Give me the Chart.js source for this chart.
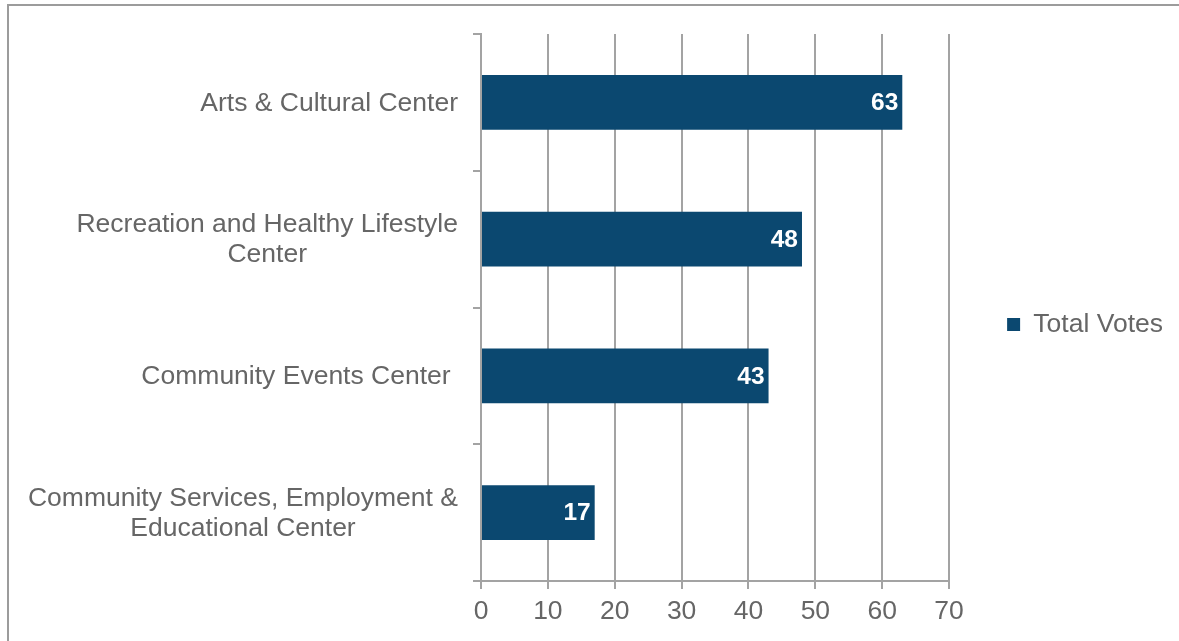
<!DOCTYPE html>
<html>
<head>
<meta charset="utf-8">
<script src="https://cdn.jsdelivr.net/npm/chart.js@4.4.1/dist/chart.umd.min.js"></script>
<style>
  body { margin: 0; background: #fff; }
  #frame {
    position: absolute; left: 7px; top: 4px; width: 1172px; height: 637px;
    border-left: 2px solid #9c9c9c; border-top: 2px solid #9c9c9c;
  }
  #wrap { position: absolute; left: 0; top: 0; width: 1179px; height: 641px; }
</style>
</head>
<body>
<div id="frame"></div>
<div id="wrap"><canvas id="votes" width="1179" height="641"></canvas></div>
<script>
const categories = [
  'Arts & Cultural Center',
  ['Recreation and Healthy Lifestyle', 'Center'],
  'Community Events Center ',
  ['Community Services, Employment &', 'Educational Center']
];
const totalVotes = [63, 48, 43, 17];
const xMin = 0;
const xMax = 70;
const xStep = 10;

const FONT = '"Liberation Sans", Arial, sans-serif';
const TEXT = '#666666';
const GRID = '#a3a3a3';
const BAR = '#0b4870';

// white value at the end of each bar
const barValueLabels = {
  id: 'barValueLabels',
  afterDatasetsDraw(chart) {
    const ctx = chart.ctx;
    const ds = chart.data.datasets[0];
    ctx.save();
    ctx.font = 'bold 24.5px ' + FONT;
    ctx.fillStyle = '#ffffff';
    ctx.textAlign = 'right';
    ctx.textBaseline = 'middle';
    chart.getDatasetMeta(0).data.forEach((bar, i) => {
      ctx.fillText(String(ds.data[i]), bar.x - 4, bar.y + 1);
    });
    ctx.restore();
  }
};

// category names: right-aligned block, lines centred on each other
const categoryLabels = {
  id: 'categoryLabels',
  afterDraw(chart) {
    const ctx = chart.ctx;
    const y = chart.scales.y;
    const right = y.right - 23;
    ctx.save();
    ctx.font = '26.5px ' + FONT;
    ctx.fillStyle = TEXT;
    ctx.textAlign = 'center';
    ctx.textBaseline = 'middle';
    chart.data.labels.forEach((label, i) => {
      const lines = Array.isArray(label) ? label : [label];
      const w = Math.max(...lines.map(l => ctx.measureText(l).width));
      const cx = right - w / 2;
      const cy = y.getPixelForTick(i) + 1;
      lines.forEach((line, j) => {
        ctx.fillText(line, cx, cy + (j - (lines.length - 1) / 2) * 30);
      });
    });
    ctx.restore();
  }
};

new Chart(document.getElementById('votes'), {
  type: 'bar',
  data: {
    labels: categories,
    datasets: [{
      label: 'Total Votes',
      data: totalVotes,
      backgroundColor: BAR,
      categoryPercentage: 0.8,
      barPercentage: 0.5
    }]
  },
  options: {
    indexAxis: 'y',
    responsive: false,
    animation: false,
    layout: { padding: { top: 8, right: 6, bottom: 0, left: 0 } },
    scales: {
      x: {
        min: xMin,
        max: xMax,
        ticks: {
          stepSize: xStep,
          color: TEXT,
          font: { family: FONT, size: 26.5 },
          padding: 7
        },
        grid: { color: GRID, lineWidth: 2, tickLength: 8 },
        border: { color: GRID, width: 2 },
        afterFit(s) { s.height = 60; }
      },
      xTop: {
        position: 'top',
        type: 'linear',
        grid: { display: false },
        border: { display: false },
        ticks: { display: false },
        afterFit(s) { s.height = 26; }
      },
      y: {
        ticks: { display: false },
        grid: { drawOnChartArea: false, color: GRID, lineWidth: 2, tickLength: 8 },
        border: { color: GRID, width: 2 },
        afterFit(s) { s.width = 481; }
      }
    },
    plugins: {
      legend: {
        position: 'right',
        labels: {
          boxWidth: 13,
          boxHeight: 13,
          padding: 58,
          color: TEXT,
          font: { family: FONT, size: 26.5 }
        }
      },
      tooltip: { enabled: false }
    }
  },
  plugins: [barValueLabels, categoryLabels]
});
</script>
</body>
</html>
